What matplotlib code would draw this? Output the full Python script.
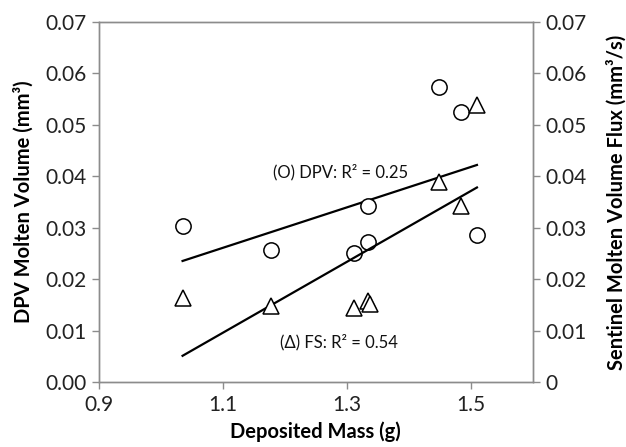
import numpy as np
import matplotlib
matplotlib.use("Agg")
import matplotlib.pyplot as plt

plt.rcParams['font.family'] = ['Lato', 'DejaVu Sans']

# Deposited mass (g) for each sample
mass = [1.035, 1.178, 1.312, 1.335, 1.335, 1.448, 1.484, 1.510]
mass_fs = [1.035, 1.178, 1.312, 1.335, 1.337, 1.448, 1.484, 1.510]
# DPV molten volume (mm^3)
dpv_volume = [0.0303, 0.0257, 0.0250, 0.0273, 0.0343, 0.0573, 0.0525, 0.0285]
# Sentinel molten volume flux (mm^3/s)
fs_flux = [0.0163, 0.0148, 0.0143, 0.0158, 0.0152, 0.0388, 0.0343, 0.0538]

x_ticks = [0.9, 1.1, 1.3, 1.5]
left_ticks = [0.00, 0.01, 0.02, 0.03, 0.04, 0.05, 0.06, 0.07]
left_labels = ["0.00", "0.01", "0.02", "0.03", "0.04", "0.05", "0.06", "0.07"]
right_labels = ["0", "0.01", "0.02", "0.03", "0.04", "0.05", "0.06", "0.07"]

fig = plt.figure(figsize=(6.26, 4.47), dpi=100)
ax = fig.add_axes([0.158, 0.1454, 0.693, 0.8054])
ax2 = ax.twinx()

spine_color = "#8c8c8c"
for a in (ax, ax2):
    for s in a.spines.values():
        s.set_color(spine_color)
        s.set_linewidth(1.0)
    a.set_ylim(0, 0.07)
    a.set_yticks(left_ticks)
    a.tick_params(axis='both', direction='out', length=5, width=1.0,
                  color=spine_color, labelsize=15, labelcolor="#222222", pad=4)

ax.set_xlim(0.9, 1.6)
ax.set_xticks(x_ticks)
ax.set_xticklabels([f"{t:.1f}" for t in x_ticks])
ax.set_yticklabels(left_labels)
ax2.set_yticklabels(right_labels)

# Scatter points
ax.plot(mass, dpv_volume, linestyle='none', marker='o', markersize=11,
        markerfacecolor='white', markeredgecolor='black', markeredgewidth=1.1, zorder=3)
ax2.plot(mass_fs, fs_flux, linestyle='none', marker='^', markersize=11,
         markerfacecolor='white', markeredgecolor='black', markeredgewidth=1.1, zorder=3)

# Linear trend lines
for xs, ys, a in ((mass, dpv_volume, ax), (mass_fs, fs_flux, ax2)):
    k, b = np.polyfit(xs, ys, 1)
    xl = np.array([min(xs), max(xs)])
    a.plot(xl, k * xl + b, color='black', linewidth=1.6, zorder=2)

ax.text(1.181, 0.0408, "(O) DPV: R² = 0.25", fontsize=12, color="#111111", va='center')
ax.text(1.192, 0.0078, "(Δ) FS: R² = 0.54", fontsize=12, color="#111111", va='center')

ax.set_xlabel("Deposited Mass (g)", fontsize=14.5, fontweight='bold', labelpad=5)
ax.set_ylabel("DPV Molten Volume (mm³)", fontsize=14.5, fontweight='bold', labelpad=8)
ax2.set_ylabel("Sentinel Molten Volume Flux (mm³/s)", fontsize=14.5, fontweight='bold', labelpad=14)

fig.savefig("out.png", dpi=100)
